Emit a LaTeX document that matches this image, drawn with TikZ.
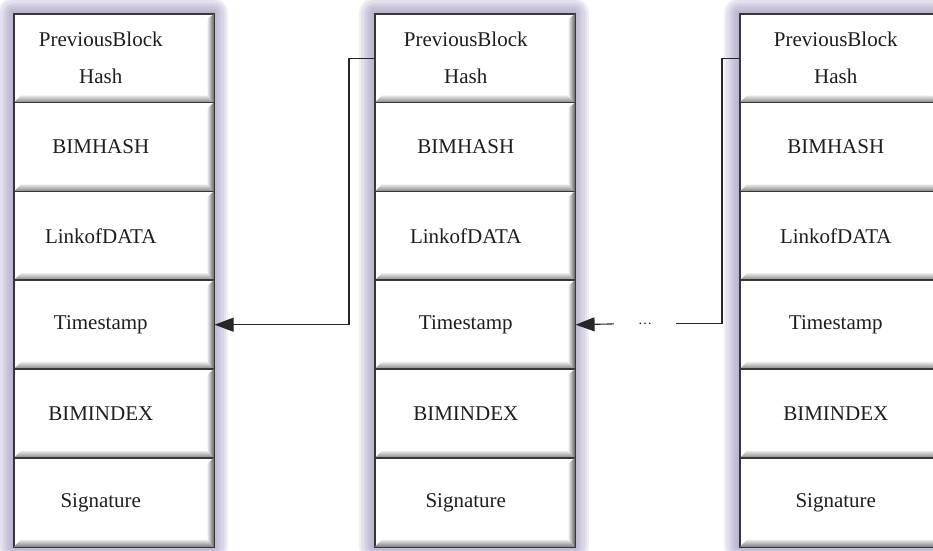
\documentclass[tikz,border=0pt]{standalone}
\usepackage{fontspec}
\setmainfont{Liberation Serif}
\usetikzlibrary{arrows.meta,calc}
\definecolor{framec}{RGB}{55,55,55}
\definecolor{glowc}{RGB}{160,150,190}
\definecolor{txtc}{RGB}{30,30,30}
\tikzset{
 cell/.style={draw=framec, line width=1.6pt, fill=white, minimum width=200pt, minimum height=88.83pt, inner sep=0pt, anchor=north west},
 bevr/.style={left color=white, right color=black!60},
 bevb/.style={top color=black!8, bottom color=black!50},
 txt/.style={font=\fontsize{21}{37}\selectfont, text=txtc, align=center},
 conn/.style={draw=black!85, line width=1.1pt},
 arr/.style={conn, -{Triangle[length=19pt,width=14pt]}},
 glow/.style={draw=glowc, opacity=0.15, line join=round},
}
\begin{document}
\begin{tikzpicture}[x=1pt,y=-1pt]
\clip (0,0) rectangle (933,550);
\fill[white] (0,0) rectangle (933,550);
\foreach \c/\x/\s in {1/13/-13, 2/374/-9, 3/739/-4} {
  \foreach \i in {1,...,7} {
    \draw[glow, line width=\i*4.2pt] (\x,13) rectangle ({\x+200},546);
  }
  \foreach \r/\t in {1/{PreviousBlock\\Hash}, 2/BIMHASH, 3/LinkofDATA, 4/Timestamp, 5/BIMINDEX, 6/Signature} {
    \node[cell, label={[txt,xshift=\s pt]center:{\t}}] (c\c r\r) at (\x, {13+(\r-1)*88.83}) {};
    \shade[bevb] ([shift={(0.8pt,0.8pt)}]c\c r\r.south west) -- ([shift={(8pt,8pt)}]c\c r\r.south west)
       -- ([shift={(-8pt,8pt)}]c\c r\r.south east) -- ([shift={(-0.8pt,0.8pt)}]c\c r\r.south east) -- cycle;
    \shade[bevr] ([shift={(-0.8pt,-0.8pt)}]c\c r\r.north east) -- ([shift={(-8pt,-7pt)}]c\c r\r.north east)
       -- ([shift={(-8pt,8pt)}]c\c r\r.south east) -- ([shift={(-0.8pt,0.8pt)}]c\c r\r.south east) -- cycle;
  }
}
\draw[arr] (c2r1.west) -- ++(-25pt,0) |- (c1r4.east);
\node[font=\fontsize{14}{14}\selectfont, text=txtc, inner sep=0pt, minimum width=62pt] (dots) at (645,323.9) {…};
\draw[conn] (c3r1.west) -- ++(-17pt,0) |- (dots.east);
\draw[arr] (dots.west) -- (c2r4.east);
\end{tikzpicture}
\end{document}
